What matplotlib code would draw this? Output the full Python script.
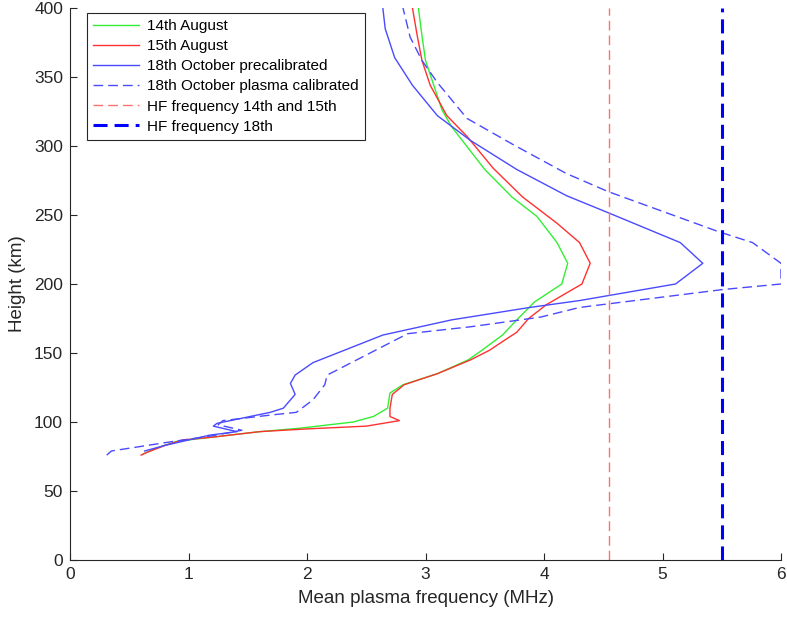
import matplotlib
matplotlib.use("Agg")
import matplotlib.pyplot as plt

plt.rcParams['font.family'] = ['Liberation Sans', 'DejaVu Sans']

# Mean plasma frequency profiles (MHz) against height (km)
aug14_freq = [0.62, 0.73, 0.90, 1.20, 1.60, 1.94, 2.39, 2.56, 2.68, 2.70, 2.81, 3.10,
              3.36, 3.46, 3.65, 3.77, 3.92, 4.15, 4.20, 4.11, 3.94, 3.73, 3.50, 3.22,
              3.14, 3.00, 2.97, 2.94]
aug14_height = [77, 81, 86, 89, 93, 95.5, 100, 104, 110, 121, 127, 135,
                145, 151, 163, 174, 187, 200, 215, 230, 249, 263, 283, 314,
                326, 362, 380, 400]

aug15_freq = [0.60, 0.65, 0.80, 0.95, 1.20, 1.60, 2.00, 2.50, 2.78, 2.70, 2.70, 2.72,
              2.82, 3.10, 3.38, 3.54, 3.68, 3.77, 3.87, 4.02, 4.32, 4.39, 4.30, 4.11,
              3.82, 3.57, 3.35, 3.18, 3.04, 2.97, 2.93, 2.89]
aug15_height = [76, 78, 83, 87, 89, 93, 95, 97, 101, 104, 110, 120,
                127, 135, 145, 152, 160, 165, 175, 185, 200, 215, 230, 244,
                263, 284, 307, 322, 344, 362, 380, 400]

oct18_pre_freq = [0.63, 0.80, 1.18, 1.41, 1.21, 1.24, 1.69, 1.80, 1.90, 1.86, 1.90, 2.05,
                  2.64, 3.22, 3.88, 4.30, 5.11, 5.34, 5.15, 4.56, 4.19, 3.77, 3.38, 3.10,
                  2.89, 2.74, 2.66, 2.64]
oct18_pre_height = [79, 83, 90.5, 93, 97, 99, 107, 110, 120, 128, 134, 143,
                    163, 174, 183, 188, 200, 215, 230, 251, 264, 283, 304, 322,
                    344, 364, 385, 400]

oct18_cal_freq = [0.31, 0.35, 0.80, 1.20, 1.45, 1.25, 1.29, 1.69, 1.91, 2.05, 2.15, 2.17,
                  2.85, 3.38, 3.97, 4.30, 5.51, 6.00, 6.00, 5.76, 5.47, 4.54, 4.19, 3.74,
                  3.35, 3.10, 2.97, 2.87, 2.81]
oct18_cal_height = [76, 79, 85, 90, 94, 98, 101, 105, 107, 116, 127, 134,
                    164, 169, 176, 183, 196, 200, 215, 230, 238, 267, 280, 301,
                    320, 346, 362, 379, 400]

hf_aug = 4.55
hf_oct = 5.50

fig = plt.figure(figsize=(7.87, 6.20), dpi=100)
ax = fig.add_axes([70 / 787, 60 / 620, 711 / 787, 552 / 620])

ax.plot(aug14_freq, aug14_height, color='#33ee33', lw=1.0, label='14th August')
ax.plot(aug15_freq, aug15_height, color='#ff3030', lw=1.0, label='15th August')
ax.plot(oct18_pre_freq, oct18_pre_height, color='#4a4aff', lw=1.0,
        label='18th October precalibrated')
ax.plot(oct18_cal_freq, oct18_cal_height, color='#4a4aff', lw=1.0, ls=(0, (7, 3.6)),
        label='18th October plasma calibrated')
ax.axvline(hf_aug, color='#ff7070', lw=1.0, ls=(0, (7, 3.6)),
           label='HF frequency 14th and 15th')
ax.axvline(hf_oct, color='#0000ff', lw=2.2, ls=(0, (4.6, 2.3)), label='HF frequency 18th')

ax.set_xlim(0, 6)
ax.set_ylim(0, 400)
ax.set_xticks(range(0, 7))
ax.set_yticks(range(0, 401, 50))

for side in ('top', 'right'):
    ax.spines[side].set_visible(False)
for side in ('left', 'bottom'):
    ax.spines[side].set_color('#262626')
    ax.spines[side].set_linewidth(0.8)
ax.tick_params(direction='in', length=5, width=0.8, color='#262626',
               labelcolor='#262626', labelsize=12.5, pad=5)

ax.set_xlabel('Mean plasma frequency (MHz)', fontsize=13.5, color='#262626', labelpad=6)
ax.set_ylabel('Height (km)', fontsize=13.5, color='#262626', labelpad=6)

leg = ax.legend(loc='upper left', bbox_to_anchor=(17 / 711, 0.991), fontsize=11,
                frameon=True, fancybox=False, edgecolor='#262626', framealpha=1,
                handlelength=3.0, handletextpad=0.55, borderpad=0.4, labelspacing=0.4,
                borderaxespad=0)
leg.get_frame().set_linewidth(0.8)

fig.savefig('out.png', dpi=100)
